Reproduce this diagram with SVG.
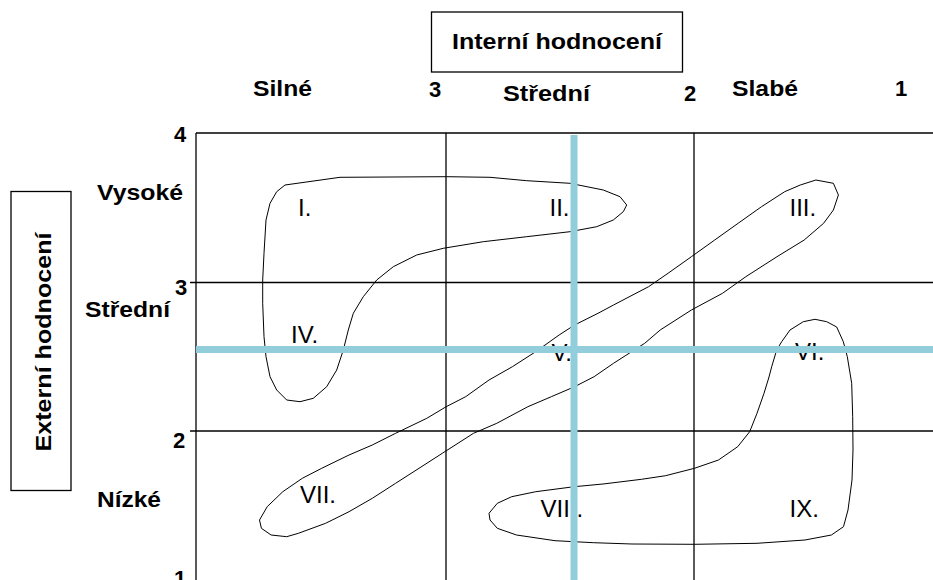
<svg xmlns="http://www.w3.org/2000/svg" width="933" height="580" viewBox="0 0 933 580">
<style>
.lbl{font-family:"Liberation Sans",Arial,sans-serif;font-weight:bold;font-size:22px;fill:#000}
.num{font-family:"Liberation Sans",Arial,sans-serif;font-size:24px;fill:#000}
.grid{stroke:#000;stroke-width:1.3;fill:none}
.blob{stroke:#000;stroke-width:1;fill:none;stroke-linejoin:round}
.blue{stroke:#92CDDC;stroke-width:7;fill:none}
.box{stroke:#000;stroke-width:1.3;fill:#fff}
</style>
<rect width="933" height="580" fill="#fff"/>
<g id="axis-internal">
<rect class="box" x="431.5" y="12" width="251" height="60"/>
<text class="lbl" x="452" y="49" textLength="210" lengthAdjust="spacingAndGlyphs">Interní hodnocení</text>
<text class="lbl" x="253" y="96" textLength="59" lengthAdjust="spacingAndGlyphs">Silné</text>
<text class="lbl" x="429" y="97">3</text>
<text class="lbl" x="503" y="101" textLength="87" lengthAdjust="spacingAndGlyphs">Střední</text>
<text class="lbl" x="684" y="101">2</text>
<text class="lbl" x="732" y="96" textLength="66" lengthAdjust="spacingAndGlyphs">Slabé</text>
<text class="lbl" x="895" y="96">1</text>
</g>
<g id="axis-external">
<rect class="box" x="11" y="191.5" width="60" height="299"/>
<text class="lbl" transform="translate(51,342) rotate(-90)" text-anchor="middle" font-size="24" textLength="219" lengthAdjust="spacingAndGlyphs">Externí hodnocení</text>
<text class="lbl" x="174" y="142">4</text>
<text class="lbl" x="97" y="200" textLength="86" lengthAdjust="spacingAndGlyphs">Vysoké</text>
<text class="lbl" x="175" y="295">3</text>
<text class="lbl" x="85" y="317" textLength="85" lengthAdjust="spacingAndGlyphs">Střední</text>
<text class="lbl" x="173" y="448">2</text>
<text class="lbl" x="97" y="507" textLength="64" lengthAdjust="spacingAndGlyphs">Nízké</text>
<text class="lbl" x="174" y="586">1</text>
</g>
<g id="grid">
<line class="grid" x1="196" y1="133" x2="933" y2="133"/>
<line class="grid" x1="190" y1="282.5" x2="933" y2="282.5"/>
<line class="grid" x1="190" y1="431" x2="933" y2="431"/>
<line class="grid" x1="196" y1="133" x2="196" y2="580"/>
<line class="grid" x1="446" y1="133" x2="446" y2="580"/>
<line class="grid" x1="694" y1="133" x2="694" y2="580"/>
</g>
<g id="cells">
<text class="num" x="298" y="216">I.</text>
<text class="num" x="549.5" y="216">II.</text>
<text class="num" x="789.5" y="216">III.</text>
<text class="num" x="291" y="343">IV.</text>
<text class="num" x="551.5" y="361">V.</text>
<text class="num" x="795" y="360">VI.</text>
<text class="num" x="300" y="503">VII.</text>
<text class="num" x="540.5" y="517">VIII.</text>
<text class="num" x="789.5" y="517">IX.</text>
</g>
<g id="group-1">
<path class="blob" d="M285,185 L340,177.3 L446.7,176.7 L490,177.3 L526.7,180.7 L570,183.3 L603.3,190 L620,196.7 L626.7,205 L623.3,211.7 L613.3,220 L596.7,226.7 L570,231.7 L526.7,236.7 L483.3,241.7 L443.3,248.3 L416.7,255 L393.3,266.7 L376.7,280 L363.3,296.7 L353.3,313.3 L348.3,330 L343.3,350 L336.7,370 L326.7,386.7 L313.3,398.3 L300,401.7 L286.7,400 L276.7,390 L270,376.7 L266,356.7 L264,336.7 L262.7,303.3 L262.7,280 L264,253.3 L266,220 L270,203.3 L276.7,191.7 Z"/>
</g>
<g id="group-2">
<path class="blob" d="M815.9,180 L833.4,183.3 L838.4,195 L833.4,210 L823.6,223.3 L804.2,240 L777,256.7 L745.8,276.7 L722.5,293.3 L691.4,310 L660.2,330 L644.7,343.3 L613.5,363.3 L594.1,376.7 L574.6,386.7 L551.3,396.7 L527.9,406.7 L496.8,423.3 L473.5,433.3 L442.3,453.3 L419,468.3 L395.6,483.3 L372.3,498.3 L349,511.7 L325.6,523.3 L298.4,533.3 L286.7,536.7 L271.1,535 L261.4,528.3 L259.5,520 L267.2,506.7 L282.8,491.7 L302.3,478.3 L321.7,468.3 L349,455 L372.3,445 L395.6,433.3 L426.8,418.3 L446.2,406.7 L465.7,396.7 L489,380 L512.4,366.7 L535.7,351.7 L559.1,335 L574.6,325 L598,313.3 L613.5,305 L648.6,286.7 L668,273.3 L691.4,256.7 L714.7,240 L738.1,223.3 L761.5,206.7 L784.7,191.7 L800.3,185 Z"/>
</g>
<g id="group-3">
<path class="blob" d="M815,319.3 L826.7,321.7 L836.7,327 L843.3,341.7 L847.3,356.7 L851.7,383.3 L852.7,416.7 L853,450 L852,480 L848,510 L843.5,526.7 L831.4,535 L805,540 L757,543.3 L694.4,544.3 L632,544 L593.5,542.7 L574,541.7 L555,540.7 L516.5,535 L497.3,528.3 L490,520 L489,513.3 L497.3,503.3 L511.7,496.7 L535.8,491.7 L574.2,486.7 L603,484 L641.5,479.3 L665.6,475.7 L694.4,468.3 L718.5,460 L737.7,446.7 L749.7,431.7 L757,413.3 L764,393.3 L769,377 L771.7,366.7 L776.7,350 L781.7,341.7 L790,330 L803.3,321.7 Z"/>
</g>
<g id="dividers">
<line class="blue" x1="574" y1="135" x2="574" y2="580"/>
<line class="blue" x1="196" y1="349.5" x2="933" y2="349.5"/>
</g>
</svg>
